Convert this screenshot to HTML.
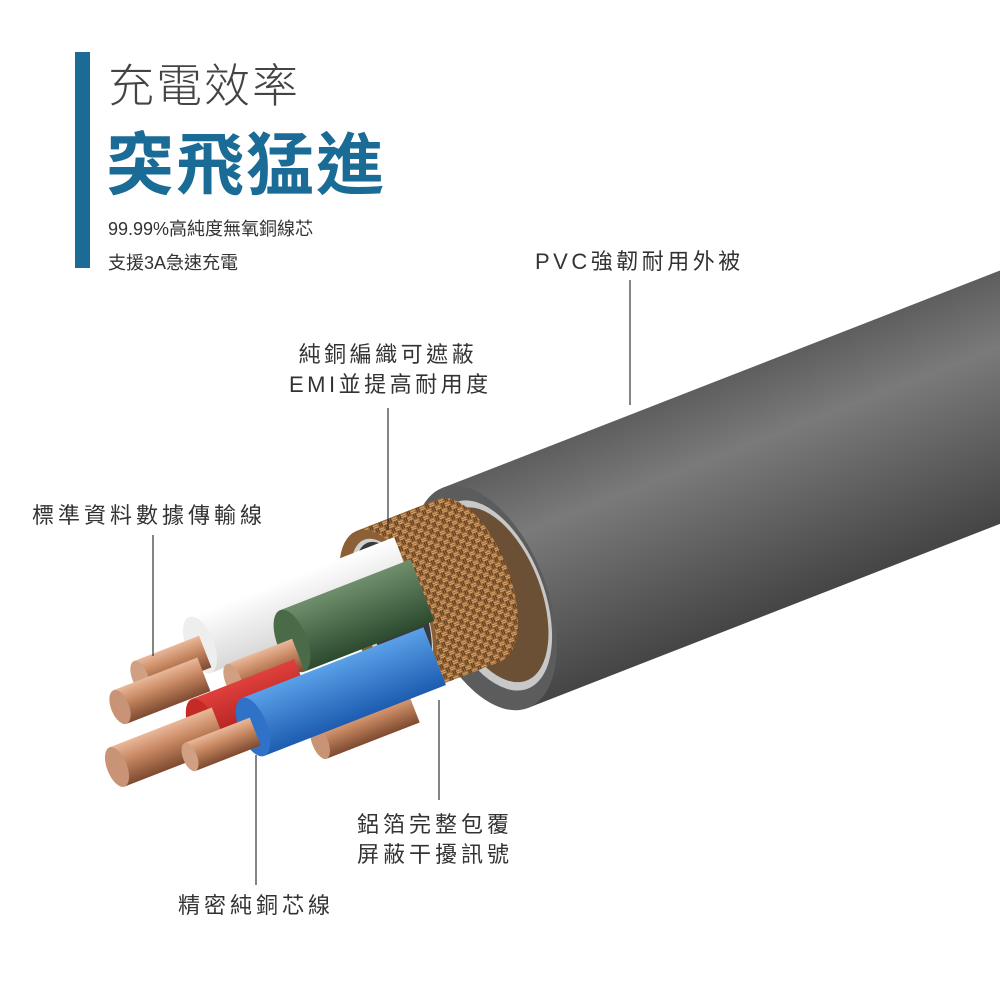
<!DOCTYPE html>
<html><head><meta charset="utf-8"><style>
body{margin:0;width:1000px;height:1000px;background:#fff;overflow:hidden;position:relative;font-family:"Liberation Sans","Noto Sans CJK TC",sans-serif;}
.t{position:absolute;white-space:nowrap;color:#333;}
</style></head><body>
<svg width="1000" height="1000" style="position:absolute;left:0;top:0">
<defs>
<linearGradient id="jk" x1="0" y1="0" x2="0" y2="1"><stop offset="0" stop-color="#5e5e5e"/><stop offset="0.3" stop-color="#7a7a7a"/><stop offset="1" stop-color="#454545"/></linearGradient>
<linearGradient id="cu" x1="0" y1="0" x2="0" y2="1"><stop offset="0" stop-color="#e9b89a"/><stop offset="0.4" stop-color="#c98a64"/><stop offset="1" stop-color="#7e4a30"/></linearGradient>
<linearGradient id="wh" x1="0" y1="0" x2="0" y2="1"><stop offset="0" stop-color="#fff"/><stop offset="1" stop-color="#d8d8d8"/></linearGradient>
<linearGradient id="gr" x1="0" y1="0" x2="0" y2="1"><stop offset="0" stop-color="#6f8f6c"/><stop offset="1" stop-color="#2c4a2e"/></linearGradient>
<linearGradient id="rd" x1="0" y1="0" x2="0" y2="1"><stop offset="0" stop-color="#e0403c"/><stop offset="1" stop-color="#a01818"/></linearGradient>
<linearGradient id="bl" x1="0" y1="0" x2="0" y2="1"><stop offset="0" stop-color="#5aa0e8"/><stop offset="1" stop-color="#1d5cb0"/></linearGradient>
<pattern id="br" width="10" height="10" patternUnits="userSpaceOnUse"><rect width="10" height="10" fill="#9b6a3c"/><path d="M0 2h5M0 4h5M5 7h5M5 9h5" stroke="#d9a86c" stroke-width="1"/><path d="M7 0v5M9 0v5M2 5v5M4 5v5" stroke="#5e3a1e" stroke-width="1"/></pattern>
</defs>
<!-- jacket -->
<g transform="rotate(-21.3 485 598)">
<rect x="485" y="480" width="700" height="236" fill="url(#jk)"/>
<ellipse cx="485" cy="598" rx="62" ry="118" fill="#5c5c5c"/>
<ellipse cx="492" cy="598" rx="52" ry="100" fill="#c8c8c8"/>
<ellipse cx="494" cy="598" rx="47" ry="92" fill="#6b5036"/>
</g>
<!-- braid -->
<g transform="rotate(-21.3 388 612)">
<ellipse cx="475" cy="612" rx="40" ry="87" fill="url(#br)"/>
<rect x="388" y="525" width="87" height="174" fill="url(#br)"/>
<ellipse cx="388" cy="612" rx="40" ry="87" fill="#8d5f36"/>
<ellipse cx="392" cy="612" rx="33" ry="76" fill="#d0d0d0"/>
<ellipse cx="394" cy="612" rx="30" ry="72" fill="#3a3a3a"/>
</g>
<!-- back copper -->
<g transform="rotate(-21.3 320 742)"><rect x="320" y="724" width="100" height="36" fill="url(#cu)"/><ellipse cx="320" cy="742" rx="8" ry="18" fill="#c99476"/></g>
<!-- white -->
<g transform="rotate(-21.3 200 645)"><rect x="200" y="615" width="220" height="60" fill="url(#wh)"/><ellipse cx="200" cy="645" rx="14" ry="30" fill="#eee"/></g>
<g transform="rotate(-21.3 140 677)"><rect x="140" y="660" width="70" height="34" fill="url(#cu)"/><ellipse cx="140" cy="677" rx="8" ry="17" fill="#d1a083"/></g>
<g transform="rotate(-21.3 120 707)"><rect x="120" y="689" width="90" height="36" fill="url(#cu)"/><ellipse cx="120" cy="707" rx="9" ry="18" fill="#c99476"/></g>
<!-- green -->
<g transform="rotate(-21.3 292 641)"><rect x="292" y="608" width="140" height="66" fill="url(#gr)"/><ellipse cx="292" cy="641" rx="15" ry="33" fill="#4a6b48"/></g>
<g transform="rotate(-21.3 233 680)"><rect x="233" y="663" width="70" height="34" fill="url(#cu)"/><ellipse cx="233" cy="680" rx="8" ry="17" fill="#d1a083"/></g>
<!-- red -->
<g transform="rotate(-21.3 203 728)"><rect x="203" y="697" width="110" height="62" fill="url(#rd)"/><ellipse cx="203" cy="728" rx="14" ry="31" fill="#c42a26"/></g>
<!-- blue -->
<g transform="rotate(-21.3 253 727)"><rect x="253" y="696" width="195" height="62" fill="url(#bl)"/><ellipse cx="253" cy="727" rx="14" ry="31" fill="#2f72c8"/></g>
<g transform="rotate(-21.3 117 767)"><rect x="117" y="746" width="110" height="42" fill="url(#cu)"/><ellipse cx="117" cy="767" rx="10" ry="21" fill="#c99476"/></g>
<g transform="rotate(-21.3 190 757)"><rect x="190" y="742" width="70" height="30" fill="url(#cu)"/><ellipse cx="190" cy="757" rx="7" ry="15" fill="#d1a083"/></g>
<!-- leader lines -->
<g stroke="#333" stroke-width="1.2">
<line x1="630" y1="280" x2="630" y2="405"/>
<line x1="388" y1="408" x2="388" y2="530"/>
<line x1="153" y1="535" x2="153" y2="656"/>
<line x1="439" y1="700" x2="439" y2="800"/>
<line x1="256" y1="755" x2="256" y2="885"/>
</g>
<rect x="75" y="52" width="15" height="216" fill="#1a6b96"/>
</svg>
<div class="t" style="left:108px;top:50px;font-size:46px;color:#444;font-weight:300;letter-spacing:2px">充電效率</div>
<div class="t" style="left:106px;top:110px;font-size:68px;color:#1a6b96;font-weight:bold;letter-spacing:2px">突飛猛進</div>
<div class="t" style="left:108px;top:215px;font-size:18px">99.99%高純度無氧銅線芯</div>
<div class="t" style="left:108px;top:249px;font-size:18px">支援3A急速充電</div>
<div class="t" style="left:535px;top:244px;font-size:22px;letter-spacing:3.5px">PVC強韌耐用外被</div>
<div class="t" style="left:289px;top:340px;font-size:22px;line-height:30px;letter-spacing:3.5px">&nbsp;純銅編織可遮蔽<br>EMI並提高耐用度</div>
<div class="t" style="left:32px;top:498px;font-size:22px;letter-spacing:4px">標準資料數據傳輸線</div>
<div class="t" style="left:357px;top:810px;font-size:22px;line-height:30px;letter-spacing:4px">鋁箔完整包覆<br>屏蔽干擾訊號</div>
<div class="t" style="left:178px;top:888px;font-size:22px;letter-spacing:4px">精密純銅芯線</div>
</body></html>
